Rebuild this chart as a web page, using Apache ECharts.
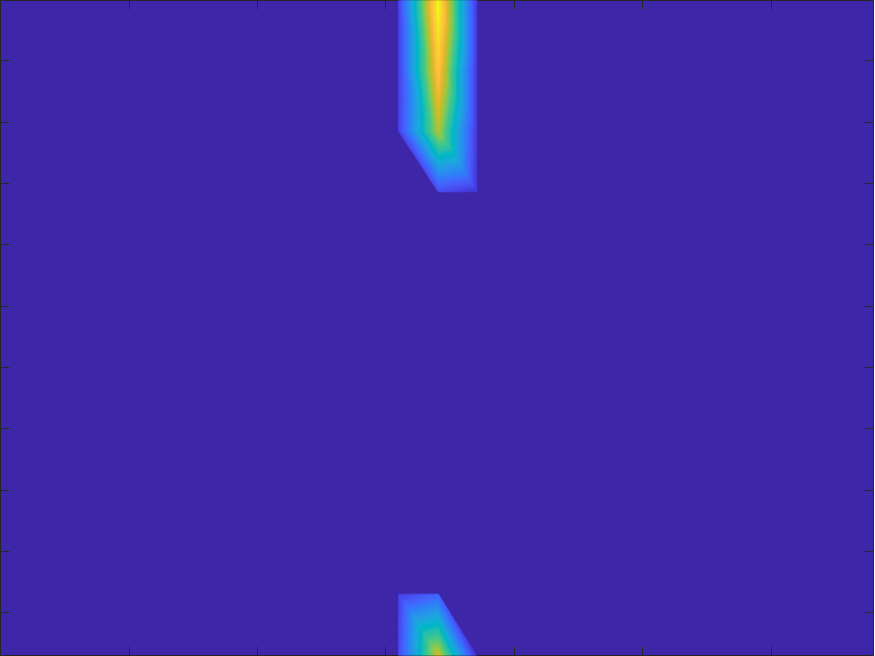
<!DOCTYPE html>
<html>
<head>
<meta charset="utf-8">
<script src="https://cdn.jsdelivr.net/npm/echarts@6/dist/echarts.min.js"></script>
<style>
  html, body { margin: 0; padding: 0; background: #ffffff; }
  #chart { width: 875px; height: 656px; }
</style>
</head>
<body>
<div id="chart"></div>
<script>
// ---- data ----
// grid node positions
const xNodes = [3.10, 3.41, 3.71];
const yNodes = [0.30, 1.30, 7.86, 8.85, 9.85, 10.85, 11.85];
// node values (normalised 0..1, null = no data) per column, one entry per yNodes row
const colLeft   = [0.12, 0.09, null, 0.10, 0.09, 0.09, 0.09];
const colCenter = [0.76, 0.19, 0.13, 0.72, 0.87, 0.98, 0.95];
const colRight  = [0.05, null, 0.06, 0.07, 0.07, 0.07, 0.07];
// tick positions
const xTicks = [1, 2, 3, 4, 5, 6];
const yTicks = [1, 2, 3, 4, 5, 6, 7, 8, 9, 10];
// axis limits
const xLimits = [0, 6.8];
const yLimits = [0.30, 10.98];

// ---- colormap (parula, 64 entries) ----
const parula = [
[0.2422,0.1504,0.6603],[0.2504,0.1650,0.7076],[0.2578,0.1818,0.7511],[0.2647,0.1978,0.7952],
[0.2706,0.2147,0.8364],[0.2751,0.2342,0.8710],[0.2783,0.2559,0.8991],[0.2803,0.2782,0.9221],
[0.2813,0.3006,0.9414],[0.2810,0.3228,0.9579],[0.2795,0.3447,0.9717],[0.2760,0.3667,0.9829],
[0.2699,0.3892,0.9906],[0.2602,0.4123,0.9952],[0.2440,0.4358,0.9988],[0.2206,0.4603,0.9973],
[0.1963,0.4847,0.9892],[0.1834,0.5074,0.9798],[0.1786,0.5289,0.9682],[0.1764,0.5499,0.9520],
[0.1687,0.5703,0.9359],[0.1540,0.5902,0.9218],[0.1460,0.6091,0.9079],[0.1380,0.6276,0.8973],
[0.1248,0.6459,0.8883],[0.1113,0.6635,0.8763],[0.0952,0.6798,0.8598],[0.0689,0.6948,0.8394],
[0.0297,0.7082,0.8163],[0.0036,0.7203,0.7917],[0.0067,0.7312,0.7660],[0.0433,0.7411,0.7394],
[0.0964,0.7500,0.7120],[0.1408,0.7584,0.6842],[0.1717,0.7670,0.6554],[0.1938,0.7758,0.6251],
[0.2161,0.7843,0.5923],[0.2470,0.7918,0.5567],[0.2906,0.7973,0.5188],[0.3406,0.8008,0.4789],
[0.3909,0.8029,0.4354],[0.4456,0.8024,0.3909],[0.5044,0.7993,0.3480],[0.5616,0.7942,0.3045],
[0.6174,0.7876,0.2612],[0.6720,0.7793,0.2227],[0.7242,0.7698,0.1910],[0.7738,0.7598,0.1646],
[0.8203,0.7498,0.1535],[0.8634,0.7406,0.1596],[0.9035,0.7330,0.1774],[0.9393,0.7288,0.2100],
[0.9728,0.7298,0.2394],[0.9956,0.7434,0.2371],[0.9970,0.7659,0.2199],[0.9952,0.7893,0.2028],
[0.9892,0.8136,0.1885],[0.9786,0.8386,0.1766],[0.9676,0.8639,0.1643],[0.9610,0.8890,0.1537],
[0.9597,0.9135,0.1423],[0.9628,0.9373,0.1265],[0.9691,0.9606,0.1064],[0.9769,0.9839,0.0805]
];
const N = parula.length;
const cmap = parula.map(c => 'rgb(' + c.map(v => Math.round(v * 255)).join(',') + ')');

// build grid[j][i] from the column arrays
const columns = [colLeft, colCenter, colRight];
const grid = yNodes.map((_, j) => columns.map(col => col[j]));

// one data item per quad cell
const cells = [];
for (let j = 0; j < yNodes.length - 1; j++) {
  for (let i = 0; i < xNodes.length - 1; i++) cells.push([i, j]);
}

function clip(poly, thr, above) {
  const out = [];
  for (let k = 0; k < poly.length; k++) {
    const P = poly[k], Q = poly[(k + 1) % poly.length];
    const pin = above ? P.t >= thr : P.t <= thr;
    const qin = above ? Q.t >= thr : Q.t <= thr;
    if (pin) out.push(P);
    if (pin !== qin) {
      const s = (thr - P.t) / (Q.t - P.t);
      out.push({ x: P.x + s * (Q.x - P.x), y: P.y + s * (Q.y - P.y), t: thr });
    }
  }
  return out;
}

function renderItem(params, api) {
  const i = api.value(0), j = api.value(1);
  const corner = (ii, jj) => {
    const v = grid[jj][ii];
    if (v == null) return null;
    const p = api.coord([xNodes[ii], yNodes[jj]]);
    return { x: p[0], y: p[1], t: v * N };
  };
  const a = corner(i, j), b = corner(i + 1, j), c = corner(i, j + 1), d = corner(i + 1, j + 1);
  const tris = [[a, b, c], [b, d, c]];
  const children = [];
  tris.forEach(tri => {
    if (tri.some(p => !p)) return;
    const ts = tri.map(p => p.t);
    const kLo = Math.max(0, Math.floor(Math.min(...ts)));
    const kHi = Math.min(N - 1, Math.floor(Math.max(...ts)));
    for (let k = kLo; k <= kHi; k++) {
      let poly = tri;
      if (k > 0) poly = clip(poly, k, true);
      if (poly.length >= 3 && k < N - 1) poly = clip(poly, k + 1, false);
      if (poly.length < 3) continue;
      children.push({
        type: 'polygon',
        shape: { points: poly.map(p => [p.x, p.y]) },
        style: { fill: cmap[k], stroke: cmap[k], lineWidth: 0.7 }
      });
    }
  });
  return { type: 'group', children };
}

const axisColor = '#262626';
function xAxisDef(position) {
  return {
    type: 'value', position, min: xLimits[0], max: xLimits[1], interval: 1,
    axisLine: { show: true, onZero: false, lineStyle: { color: axisColor, width: 1 } },
    axisTick: { show: true, inside: true, length: 8.7, customValues: xTicks, lineStyle: { color: axisColor, width: 1 } },
    axisLabel: { show: false }, splitLine: { show: false }
  };
}
function yAxisDef(position) {
  return {
    type: 'value', position, min: yLimits[0], max: yLimits[1],
    axisLine: { show: true, onZero: false, lineStyle: { color: axisColor, width: 1 } },
    axisTick: { show: true, inside: true, length: 8.7, customValues: yTicks, lineStyle: { color: axisColor, width: 1 } },
    axisLabel: { show: false }, splitLine: { show: false }
  };
}

const chart = echarts.init(document.getElementById('chart'), null, { renderer: 'canvas' });
chart.setOption({
  animation: false,
  grid: { left: 0.5, right: 1.5, top: 0.5, bottom: 0.5, show: true, backgroundColor: cmap[0], borderWidth: 0 },
  xAxis: [xAxisDef('bottom'), xAxisDef('top')],
  yAxis: [yAxisDef('left'), yAxisDef('right')],
  series: [{
    type: 'custom',
    coordinateSystem: 'cartesian2d',
    xAxisIndex: 0, yAxisIndex: 0,
    clip: true,
    silent: true,
    encode: { x: -1, y: -1 },
    renderItem,
    data: cells
  }]
});
</script>
</body>
</html>
